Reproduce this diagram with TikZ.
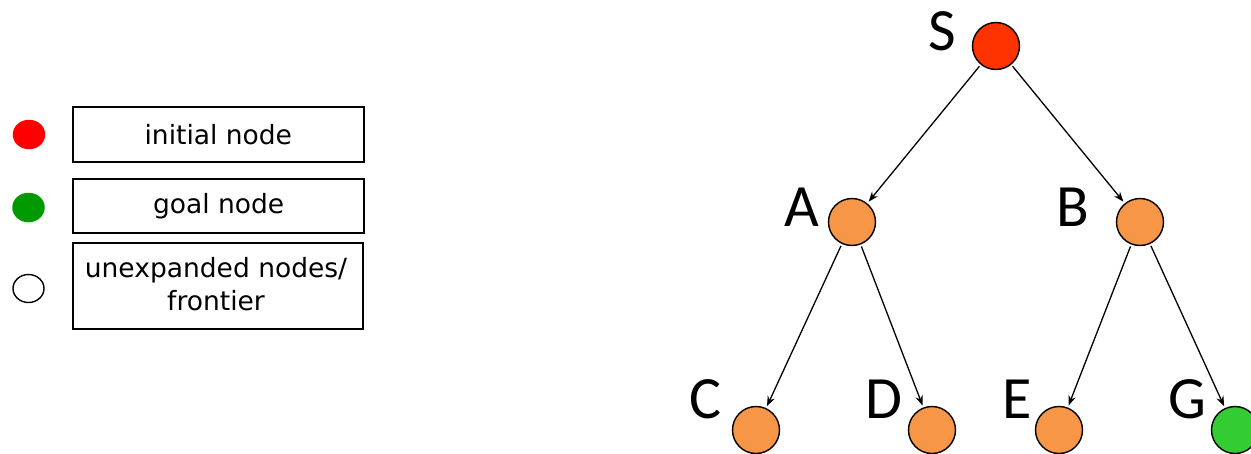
\documentclass[tikz,border=0pt]{standalone}
\usepackage{fontspec}
\setmainfont{Carlito}
\newfontfamily\legfont{DejaVu Sans}
\usetikzlibrary{arrows.meta,shapes.geometric}
\definecolor{sred}{HTML}{FF3300}
\definecolor{orng}{HTML}{F79646}
\definecolor{ggreen}{HTML}{33CC33}
\definecolor{lred}{HTML}{FF0000}
\definecolor{lgreen}{HTML}{009900}
\tikzset{
  tnode/.style={circle,draw=black,line width=1.4pt,minimum size=47pt,inner sep=0pt},
  lab/.style={font=\fontsize{60}{72}\selectfont,inner sep=0pt},
  legbox/.style={draw=black,line width=2pt,inner sep=0pt},
  legtext/.style={font=\legfont\fontsize{26.5}{32.5}\selectfont,align=center,inner sep=0pt},
  legdot/.style={ellipse,inner sep=0pt,minimum width=32.5pt,minimum height=29.5pt},
  edge/.style={line width=1.3pt,-{Stealth[length=10pt,width=7.5pt]},shorten <=2pt,shorten >=2pt}
}
\begin{document}
\begin{tikzpicture}[x=1pt,y=-1pt]
\useasboundingbox (0,0) rectangle (1251,453);
\clip (0,0) rectangle (1251,453);
% legend
\node[legdot,fill=lred] (l1) at (29,134.5) {};
\node[legdot,fill=lgreen] (l2) at (28.5,207.5) {};
\node[legdot,draw=black,line width=1.4pt,minimum width=31pt,minimum height=28pt] (l3) at (28.5,288.5) {};
\draw[legbox] (72.7,107.3) rectangle (364,162);
\node[legtext] (t1) at (218.3,134.7) {initial node};
\draw[legbox] (73.3,178.7) rectangle (364,233.3);
\node[legtext] (t2) at (218.6,206) {goal node};
\draw[legbox] (72.7,242.7) rectangle (363.3,328.7);
\node[legtext] (t3) at (216,284) {unexpanded nodes/\\frontier};
% tree
\node[tnode,fill=sred] (S) at (996,46) {};
\node[tnode,fill=orng] (A) at (852,222) {};
\node[tnode,fill=orng] (B) at (1140,222) {};
\node[tnode,fill=orng] (C) at (756,430) {};
\node[tnode,fill=orng] (D) at (932,430) {};
\node[tnode,fill=orng] (E) at (1059,430) {};
\node[tnode,fill=ggreen] (G) at (1235,430) {};
\node[lab] (Sl) at (942,31) {S};
\node[lab] (Al) at (802,207) {A};
\node[lab] (Bl) at (1073,207) {B};
\node[lab] (Cl) at (705.5,399) {C};
\node[lab] (Dl) at (884,399) {D};
\node[lab] (El) at (1017,399) {E};
\node[lab] (Gl) at (1187,399) {G};
\draw[edge] (S) -- (A);
\draw[edge] (S) -- (B);
\draw[edge] (A) -- (C);
\draw[edge] (A) -- (D);
\draw[edge] (B) -- (E);
\draw[edge] (B) -- (G);
\end{tikzpicture}
\end{document}
